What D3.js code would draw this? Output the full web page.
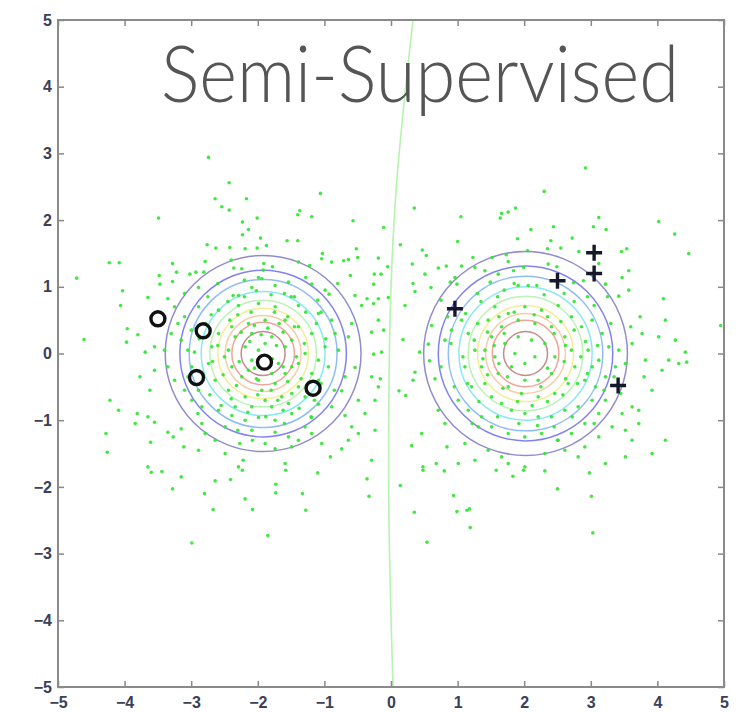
<!DOCTYPE html>
<html><head><meta charset="utf-8">
<script src="https://cdn.jsdelivr.net/npm/d3@7"></script>
<style>body{margin:0;background:#fff}</style>
</head><body>
<svg id="c" width="744" height="712"></svg>
<script>
const xTicks = [-5,-4,-3,-2,-1,0,1,2,3,4,5];
const yTicks = [-5,-4,-3,-2,-1,0,1,2,3,4,5];
const titleText = "Semi-Supervised";

// cluster centres of the fitted Gaussians
const centers = [[-1.92, 0.0], [2.02, 0.0]];
// contour radii (outer -> inner) for each cluster
const ringRadiiLeft  = [1.47,1.25,1.11,0.93,0.80,0.68,0.57,0.47,0.33];
const ringRadiiRight = [1.53,1.31,1.16,1.00,0.86,0.72,0.60,0.50,0.33];
const ringColors = ["#7d78c4","#6c6cee","#7ab2f4","#74e4f0","#b0f0ac","#f2ea84","#f4c498","#ee9486","#b87878"];

// labeled points
const circlePts = [[-3.5,0.52],[-2.82,0.34],[-2.92,-0.36],[-1.9,-0.13],[-1.17,-0.52]];
const plusPts   = [[0.96,0.67],[2.5,1.09],[3.05,1.2],[3.05,1.51],[3.41,-0.48]];

// decision boundary
const boundary = [[0.33,5],[0.2,3.8],[0.08,2.5],[0.0,1.0],[-0.03,-0.5],[-0.03,-2.5],[0.03,-5]];

// unlabeled points
const unlabeled = [
[-2.74,2.94],[-2.43,2.56],[-2.64,2.32],[-2.17,2.32],[-2.54,2.2],[-2.43,2.15],[-3.49,2.03],[-2.23,1.97],[-2.01,2.03],[-2.14,1.86],[-2.23,1.78],[-1.96,1.73],[-1.37,2.14],[-1.40,2.08],[-1.19,2.05],[-1.06,2.40],[-0.57,1.99],[-0.11,1.89],[-1.56,1.69],[-1.40,1.69],[-2.76,1.63],[-2.63,1.58],[-2.42,1.59],[-2.19,1.57],[-2.01,1.58],[-1.87,1.62],[-4.23,1.36],[-4.08,1.36],[-4.72,1.13],[-4.03,0.94],[-3.48,1.17],[-3.47,1.04],[-3.28,1.35],[-3.28,1.08],[-3.22,1.22],[-3.02,1.19],[-2.93,1.22],[-2.79,1.38],[-2.81,1.22],[-2.40,1.40],[-2.36,1.28],[-2.24,1.27],[-1.91,1.35],[-1.92,1.25],[-1.78,1.30],[-1.99,1.14],[-1.94,1.12],[-2.09,0.99],[-2.02,0.94],[-1.74,1.02],[-1.54,1.07],[-1.39,1.37],[-1.22,1.32],[-1.28,1.14],[-1.19,1.04],[-1.04,1.42],[-1.03,1.50],[-0.89,1.37],[-0.71,1.39],[-0.64,1.41],[-0.52,1.57],[-0.50,1.44],[-0.19,1.43],[-0.05,1.30],[-0.25,1.19],[-0.15,1.19],[-0.61,1.17],[-0.26,1.04],[-0.99,0.95],[-0.93,0.89],[-0.54,0.87],[-0.36,0.82],[-0.19,0.82],[-0.04,0.84],[-2.37,0.87],[-2.29,0.87],[-3.65,0.84],[-2.89,0.99],
[-2.6,1.05],[-1.6,0.9],[-2.2,1.1],[-1.45,0.85],[-2.75,0.85],[-3.1,0.9],[-1.1,0.8],[-0.8,1.05],[-3.35,0.82],
[2.92,2.78],[2.30,2.43],[0.35,2.18],[1.05,2.05],[1.64,2.03],[1.66,2.10],[1.76,2.12],[1.87,2.18],[3.12,2.04],[3.04,1.90],[3.23,1.86],[2.10,1.86],[2.44,1.90],[4.02,1.98],[4.26,1.79],[4.47,1.50],[0.14,1.63],[1.00,1.68],[1.90,1.72],[2.40,1.69],[2.72,1.73],[0.47,1.55],[0.53,1.47],[1.23,1.44],[1.52,1.44],[1.73,1.48],[2.05,1.54],[2.35,1.57],[2.55,1.58],[2.82,1.53],[3.46,1.53],[3.54,1.57],[0.32,1.34],[0.51,1.19],[0.71,1.28],[0.83,1.31],[1.06,1.31],[1.26,1.29],[0.96,1.14],[0.89,1.07],[0.99,1.04],[0.33,1.05],[0.60,0.99],[0.36,0.93],[1.41,1.24],[1.49,1.07],[1.61,1.19],[1.84,1.24],[1.99,1.29],[1.76,1.38],[2.36,1.34],[2.49,1.30],[2.89,1.09],[3.12,1.35],[3.22,1.04],[3.47,1.14],[3.57,1.24],[3.42,0.86],[3.57,0.95],[4.09,0.82],[1.91,1.02],[2.06,1.02],[2.19,1.02],[2.74,1.06],
[1.3,0.9],[2.6,0.9],[1.7,0.95],[2.95,0.85],[0.75,0.8],
[-4.61,0.21],[-4.06,0.72],[-3.96,0.37],[-3.97,0.17],[-3.80,0.28],[-3.69,0.02],[-3.55,0.10],[-3.55,-0.25],[-3.77,-0.35],[-3.62,-0.55],[-4.22,-0.70],[-4.09,-0.85],[-3.81,-0.90],[-3.65,-0.95],[-3.55,-1.03],[-3.84,-1.05],[-4.28,-1.20],[-4.26,-1.48],[-3.61,-1.33],[-3.35,-1.18],[-3.27,-1.25],[-3.15,-1.13],[-3.11,-1.40],[-2.84,-1.05],[-2.79,-1.20],[-2.89,-1.45],[-2.64,-1.30],[-2.49,-1.50],[-2.22,-1.60],[-2.27,-1.35],[-2.08,-1.30],[-1.89,-1.35],[-1.74,-1.43],[-1.54,-1.25],[-1.49,-1.40],[-1.39,-1.30],[-1.29,-1.10],[-1.19,-1.20],[-1.04,-1.35],[-0.91,-1.55],[-0.74,-1.43],[-0.64,-1.30],[-0.49,-1.20],[-0.59,-1.10],[-0.39,-0.90],[-0.49,-0.70],[-0.24,-0.70],[-0.19,-0.50],[-0.29,-0.35],[-0.16,-0.38],[-0.26,-0.01],[-0.14,0.02],[-0.29,0.32],[-0.11,0.35],[-0.19,0.50],[-0.44,0.72],[-0.26,0.75],[-0.59,0.45],[-0.64,0.25],[-0.54,-0.21],[-0.69,-0.35],[-0.79,0.05],[-0.74,-0.56],[-0.89,-0.80],[-0.69,-0.93],[-1.09,-0.76],[-1.19,-0.96],[-1.49,-0.90],[-1.74,-1.00],[-1.99,-0.96],[-2.19,-1.00],[-2.39,-0.93],[-2.59,-0.85],[-2.84,-0.80],[-2.99,-0.70],[-3.10,-0.55],[-3.25,-0.40],[-3.35,-0.20],[-3.40,0.05],[-3.30,0.30],[-3.10,0.55],[-3.25,0.70],[-2.89,0.70],[-2.59,0.65],[-2.29,0.72],[-1.99,0.75],[-1.74,0.70],[-1.39,0.72],[-1.09,0.60],[-0.89,0.50],[-0.84,0.30],[-0.99,0.10],[-0.94,-0.20],[-1.09,-0.40],[-1.39,-0.50],[-1.49,-0.20],[-1.29,0.00],[-1.19,0.30],[-1.39,0.40],[-1.59,0.50],[-1.89,0.50],[-2.14,0.45],[-2.39,0.40],[-2.59,0.30],[-2.69,0.10],[-2.74,-0.15],[-2.64,-0.40],[-2.44,-0.55],[-2.19,-0.65],[-1.89,-0.70],[-1.64,-0.65],[-1.49,-0.60],[-1.74,-0.45],[-1.99,-0.40],[-2.24,-0.35],[-2.39,-0.20],[-2.44,0.05],[-2.34,0.25],[-2.09,0.30],[-1.79,0.25],[-1.59,0.10],[-1.69,-0.15],[-2.09,-0.10],[-2.19,0.10],[-1.99,0.05],[-1.89,0.15],[-2.14,-0.25],[-1.79,-0.30],[-1.59,-0.30],[-1.39,-0.15],[-1.49,0.20],[-2.79,0.45],[-3.05,0.05],[-2.99,-0.20],[-3.15,0.20],[-2.89,-0.55],[-2.34,-0.80],[-2.09,-0.80],[-1.79,-0.80],[-1.54,-0.75],[-1.29,-0.65],[-1.19,-0.30],[-1.09,-0.10],[-1.94,-0.55],[-2.49,-1.10],[-2.09,-1.15],[-1.74,-1.18],[-2.29,-1.70],[-1.59,-1.65],[-3.65,-1.70],[-0.29,-1.60],[-0.24,-1.15],
[-1.75,0.62],[-1.55,0.55],[-2.3,0.58],[-2.05,0.42],[-1.85,0.38],[-1.62,0.32],[-2.42,0.5],[-2.6,0.12],[-2.5,-0.05],[-2.28,-0.12],[-2.05,-0.22],[-1.78,-0.08],[-1.62,-0.2],[-1.42,-0.05],[-1.3,0.15],[-1.35,-0.38],[-1.55,-0.42],[-1.8,-0.55],[-2.0,-0.62],[-2.32,-0.48],[-2.52,-0.32],[-2.72,-0.62],[-2.55,-0.78],[-2.15,-0.88],[-1.88,-0.95],[-1.62,-0.85],[-1.38,-0.82],[-1.15,-0.7],[-1.05,-0.45],[-0.98,0.22],[-1.12,0.45],[-1.28,0.62],[-1.5,0.85],[-1.8,0.88],[-2.1,0.62],[-2.45,0.78],[-2.7,0.58],[-2.88,0.22],[-2.95,0.02],[-2.82,-0.32],[-2.68,-0.12],[-2.12,0.18],[-1.95,0.28],[-1.72,0.12],[-2.25,0.32],[-1.68,0.45],[-2.02,-0.38],[-1.7,-0.7],[-2.4,-0.68],[-1.2,-0.95],[-2.9,-0.9],[-3.05,-0.35],[-3.2,0.45],[-3.0,0.35],[-1.05,0.62],[-0.85,-0.55],[-1.45,0.4],[-2.2,0.85],[-1.6,-1.05],[-2.3,-1.15],
[0.21,0.72],[0.18,0.21],[0.12,-0.56],[0.22,-0.63],[0.36,-0.28],[0.33,-0.40],[0.43,0.02],[0.46,-1.20],[0.31,-1.38],[0.48,-1.70],[0.61,0.42],[0.56,0.14],[0.58,-0.11],[0.66,-0.38],[0.71,-0.85],[0.81,-1.05],[0.84,-1.40],[0.68,-1.65],[0.81,0.20],[0.91,0.35],[1.06,0.50],[1.16,0.30],[1.26,0.05],[1.11,-0.20],[1.21,-0.50],[1.01,-0.70],[1.16,-0.85],[1.31,-1.10],[1.11,-1.35],[1.26,-1.60],[1.46,-1.45],[1.66,-1.55],[1.46,0.50],[1.56,0.70],[1.76,0.60],[2.01,0.70],[2.26,0.65],[2.51,0.72],[2.71,0.55],[2.86,0.40],[3.02,0.50],[3.17,0.30],[3.27,0.10],[3.42,0.05],[3.52,-0.15],[3.37,-0.20],[3.22,-0.35],[3.07,-0.50],[3.02,-0.70],[2.81,-0.80],[2.61,-0.85],[2.41,-0.95],[2.21,-0.95],[2.01,-0.90],[1.81,-0.85],[1.66,-0.75],[1.51,-0.65],[1.41,-0.45],[1.36,-0.20],[1.41,0.05],[1.51,0.25],[1.66,0.40],[1.91,0.50],[2.16,0.45],[2.41,0.40],[2.61,0.25],[2.71,0.05],[2.76,-0.20],[2.66,-0.45],[2.46,-0.60],[2.21,-0.65],[1.96,-0.60],[1.76,-0.50],[1.61,-0.30],[1.56,-0.05],[1.71,0.15],[1.91,0.25],[2.11,0.20],[2.31,0.15],[2.46,-0.05],[2.41,-0.30],[2.21,-0.40],[2.01,-0.40],[1.81,-0.20],[2.01,-0.15],[2.16,-0.05],[1.86,0.00],[2.96,0.05],[3.02,-0.20],[2.91,-0.40],[3.12,-0.10],[3.22,-0.70],[3.12,-0.90],[2.91,-1.05],[2.71,-1.20],[2.51,-1.30],[2.26,-1.20],[2.01,-1.25],[1.76,-1.20],[1.51,-1.10],[1.36,-0.95],[2.31,-1.50],[2.61,-1.45],[2.81,-1.55],[2.91,-1.40],[3.12,-1.25],[3.32,-1.10],[3.52,-1.15],[3.62,-0.80],[3.72,-0.85],[3.47,-0.90],[3.62,-1.30],[3.72,-1.05],[3.92,-0.55],[3.82,-0.10],[3.77,0.30],[3.74,0.55],[3.62,0.15],[4.02,0.25],[4.12,0.50],[4.07,-0.25],[4.17,-0.10],[4.27,0.20],[4.32,-0.15],[4.42,0.02],[4.44,-0.13],[4.12,-1.30],[3.92,-1.50],[3.52,-1.55],[3.22,-1.65],[4.95,0.42],[2.01,-1.70],[1.76,-1.65],[1.01,-1.65],
[1.85,0.62],[2.15,0.58],[2.35,0.55],[1.62,0.55],[1.45,0.32],[1.3,0.45],[2.55,0.48],[2.75,0.35],[2.92,0.18],[2.85,-0.05],[2.6,-0.12],[2.35,-0.22],[2.62,0.12],[1.55,0.12],[1.38,-0.08],[1.45,-0.32],[1.68,-0.52],[1.9,-0.72],[2.12,-0.78],[2.35,-0.72],[2.58,-0.62],[2.8,-0.45],[2.95,-0.3],[3.1,0.12],[3.2,-0.55],[2.72,-0.95],[2.45,-1.1],[2.2,-1.08],[1.92,-1.05],[1.6,-0.95],[1.32,-0.72],[1.15,-0.45],[1.08,-0.05],[1.12,0.6],[1.35,0.78],[1.6,0.85],[2.3,0.88],[2.75,0.78],[3.05,0.72],[3.3,0.45],[3.35,-0.35],[3.05,-1.05],[1.22,-1.05],[1.7,0.3],[2.45,0.3],[2.62,-0.38],[1.62,-0.15],[1.75,-0.35],[2.25,-0.5],[1.25,0.2],[0.95,-0.5],[0.9,0.15],[3.45,-0.6],[3.25,0.85],[2.5,-1.3],[1.85,1.05],[0.75,-0.2],[0.85,0.55],[3.6,0.4],[3.8,-0.35],
[-3.60,-1.78],[-3.44,-1.77],[-3.15,-1.85],[-3.28,-2.03],[-2.80,-2.10],[-2.64,-1.91],[-2.41,-1.89],[-2.23,-1.75],[-2.67,-2.34],[-2.99,-2.84],[-2.19,-2.18],[-2.08,-2.34],[-1.85,-2.73],[-1.73,-1.96],[-1.73,-2.09],[-1.58,-1.75],[-1.33,-2.10],[-1.28,-2.35],[-1.10,-1.79],[-0.36,-1.88],[-0.33,-2.14],[0.14,-1.98],[0.35,-2.38],[0.48,-1.75],[0.54,-2.83],[0.80,-1.76],[0.94,-2.13],[0.99,-2.37],[1.14,-2.35],[1.18,-2.33],[1.19,-2.61],[1.58,-1.75],[1.83,-1.84],[1.99,-1.75],[2.31,-1.76],[2.50,-2.03],[2.98,-1.79],[3.01,-2.14],[3.03,-2.69]
];

const svg = d3.select("#c");
const x = d3.scaleLinear().domain([-5,5]).range([58,724]);
const y = d3.scaleLinear().domain([-5,5]).range([687,20]);

// contour rings
const rings = [];
[ringRadiiLeft, ringRadiiRight].forEach((radii, ci) => {
  radii.forEach((r, i) => rings.push({c: centers[ci], r, color: ringColors[i]}));
});
svg.append("g").selectAll("ellipse").data(rings).join("ellipse")
  .attr("cx", d => x(d.c[0])).attr("cy", d => y(d.c[1]))
  .attr("rx", d => x(d.c[0] + d.r) - x(d.c[0]))
  .attr("ry", d => y(d.c[1]) - y(d.c[1] + d.r))
  .attr("fill", "none").attr("stroke", d => d.color)
  .attr("stroke-width", 1.5).attr("opacity", 0.85);

// unlabeled points
svg.append("g").selectAll("circle").data(unlabeled).join("circle")
  .attr("cx", d => x(d[0])).attr("cy", d => y(d[1])).attr("r", 1.8)
  .attr("fill", "#2ee62e").attr("opacity", 0.9);

// decision boundary
svg.append("path").datum(boundary)
  .attr("d", d3.line().x(d => x(d[0])).y(d => y(d[1])).curve(d3.curveCatmullRom))
  .attr("fill", "none").attr("stroke", "#b4f4ac").attr("stroke-width", 1.6);

// labeled markers
svg.append("g").selectAll("circle").data(circlePts).join("circle")
  .attr("cx", d => x(d[0])).attr("cy", d => y(d[1])).attr("r", 7)
  .attr("fill", "none").attr("stroke", "#111").attr("stroke-width", 3.4);
const pg = svg.append("g").attr("stroke", "#141828").attr("stroke-width", 3.4);
pg.selectAll("path").data(plusPts).join("path")
  .attr("d", d => {
    const px = x(d[0]), py = y(d[1]);
    return `M${px-8},${py}H${px+8}M${px},${py-8}V${py+8}`;
  });

// axes
const axStyle = g => {
  g.select(".domain").remove();
  g.selectAll(".tick line").attr("stroke", "#888").attr("stroke-width", 1.5);
  g.selectAll(".tick text").attr("fill", "#3a4058").attr("font-weight", "bold")
    .attr("font-size", 16).attr("font-family", "'Liberation Sans', Arial, sans-serif");
};
svg.append("g").attr("transform", "translate(0,687)")
  .call(d3.axisBottom(x).tickValues(xTicks).tickSize(-6).tickPadding(10)).call(axStyle);
svg.append("g").attr("transform", "translate(58,0)")
  .call(d3.axisLeft(y).tickValues(yTicks).tickSize(-6).tickPadding(6)).call(axStyle);
svg.append("g").attr("transform", "translate(0,20)")
  .call(d3.axisTop(x).tickValues(xTicks).tickSize(-6).tickFormat("")).call(axStyle);
svg.append("g").attr("transform", "translate(724,0)")
  .call(d3.axisRight(y).tickValues(yTicks).tickSize(-6).tickFormat("")).call(axStyle);
svg.append("rect").attr("x", x(-5)).attr("y", y(5))
  .attr("width", x(5) - x(-5)).attr("height", y(-5) - y(5))
  .attr("fill", "none").attr("stroke", "#8a8a8a").attr("stroke-width", 2);

// title
svg.append("text").attr("x", 161).attr("y", 102)
  .attr("font-family", "Lato, 'Open Sans', sans-serif").attr("font-weight", 300)
  .attr("font-size", 79).attr("fill", "#555")
  .attr("textLength", 518).attr("lengthAdjust", "spacingAndGlyphs")
  .text(titleText);
</script>
</body></html>
